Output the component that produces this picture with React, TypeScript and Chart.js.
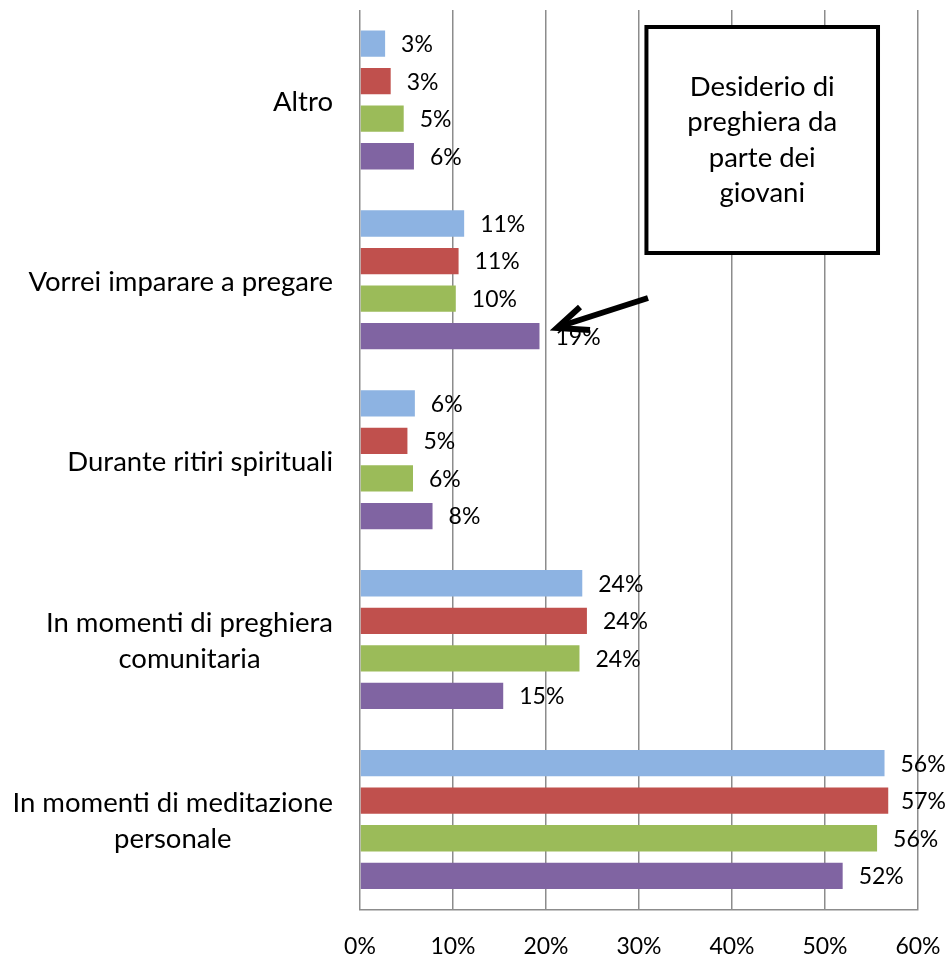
import React, { useEffect, useRef } from "react";
import { Chart, registerables } from "chart.js";

Chart.register(...registerables);

const categories: string[][] = [
  ["Altro"],
  ["Vorrei imparare a pregare"],
  ["Durante ritiri spirituali"],
  ["In momenti di preghiera", "comunitaria"],
  ["In momenti di meditazione", "personale"],
];

const seriesNames = ["Serie 1", "Serie 2", "Serie 3", "Serie 4"];
const series1 = [2.7, 11.2, 5.9, 23.9, 56.4];
const series2 = [3.3, 10.6, 5.1, 24.4, 56.8];
const series3 = [4.7, 10.3, 5.7, 23.6, 55.6];
const series4 = [5.8, 19.3, 7.8, 15.4, 51.9];
const colors = ["#8DB3E2", "#C0504D", "#9BBB59", "#8064A2"];
const xTicks = [0, 10, 20, 30, 40, 50, 60];
const boxLines = ["Desiderio di", "preghiera da", "parte dei", "giovani"];

const FONT = "Lato, 'Open Sans', sans-serif";

const labelsPlugin = {
  id: "customLabels",
  afterDatasetsDraw(chart: any) {
    const ctx = chart.ctx;
    const area = chart.chartArea;
    ctx.save();
    // data labels
    ctx.font = `23px ${FONT}`;
    ctx.fillStyle = "#000";
    ctx.textBaseline = "middle";
    ctx.textAlign = "left";
    chart.data.datasets.forEach((ds: any, di: number) => {
      const meta = chart.getDatasetMeta(di);
      meta.data.forEach((el: any, i: number) => {
        const txt = Math.round(ds.data[i]) + "%";
        const w = ctx.measureText(txt).width;
        let x = el.x + 16;
        if (x + w > area.right + 28) x = area.right + 28 - w;
        ctx.fillText(txt, x, el.y + 1);
      });
    });
    // category labels
    ctx.font = `27.5px ${FONT}`;
    ctx.textAlign = "center";
    const yScale = chart.scales.y;
    categories.forEach((lines, i) => {
      const cy = yScale.getPixelForValue(i);
      const maxW = Math.max(...lines.map((l) => ctx.measureText(l).width));
      const cx = area.left - 27 - maxW / 2;
      const lh = 36;
      lines.forEach((l, j) => {
        ctx.fillText(l, cx, cy + 2 + (j - (lines.length - 1) / 2) * lh);
      });
    });
    ctx.restore();
  },
  afterDraw(chart: any) {
    const ctx = chart.ctx;
    const xs = chart.scales.x;
    ctx.save();
    // annotation box
    const bx = xs.getPixelForValue(30.8);
    const bx2 = xs.getPixelForValue(55.7);
    const by = 27;
    const by2 = 253;
    ctx.fillStyle = "#fff";
    ctx.fillRect(bx, by, bx2 - bx, by2 - by);
    ctx.lineWidth = 4;
    ctx.strokeStyle = "#000";
    ctx.strokeRect(bx, by, bx2 - bx, by2 - by);
    ctx.fillStyle = "#000";
    ctx.font = `27.5px ${FONT}`;
    ctx.textAlign = "center";
    ctx.textBaseline = "middle";
    const cx = (bx + bx2) / 2;
    const cy = (by + by2) / 2;
    boxLines.forEach((l, j) => {
      ctx.fillText(l, cx, cy + (j - (boxLines.length - 1) / 2) * 35.5);
    });
    // arrow
    const tipX = 557;
    const tipY = 328;
    ctx.lineWidth = 6;
    ctx.lineCap = "butt";
    ctx.beginPath();
    ctx.moveTo(648, 298);
    ctx.lineTo(tipX + 4, tipY - 2);
    ctx.stroke();
    ctx.beginPath();
    ctx.moveTo(580, 307);
    ctx.lineTo(tipX, tipY);
    ctx.lineTo(590, 330);
    ctx.stroke();
    ctx.restore();
  },
};

export default function App() {
  const ref = useRef<HTMLCanvasElement>(null);
  useEffect(() => {
    if (!ref.current) return;
    const datasets = [series1, series2, series3, series4].map((d, i) => ({
      label: seriesNames[i],
      data: d,
      backgroundColor: colors[i],
      borderWidth: 0,
      categoryPercentage: 0.835,
      barPercentage: 0.7,
    }));
    const chart = new Chart(ref.current, {
      type: "bar",
      data: { labels: categories.map((c) => c.join(" ")), datasets },
      options: {
        indexAxis: "y",
        animation: false,
        responsive: false,
        maintainAspectRatio: false,
        layout: { padding: { left: 360, right: 33, top: 10, bottom: -29 } },
        plugins: { legend: { display: false }, tooltip: { enabled: false } },
        scales: {
          y: { display: false },
          x: {
            min: 0,
            max: 60,
            afterBuildTicks: (axis: any) => {
              axis.ticks = xTicks.map((v) => ({ value: v }));
            },
            afterFit: (axis: any) => {
              axis.paddingLeft = 0;
              axis.paddingRight = 0;
            },
            grid: { color: "#8c8c8c", lineWidth: 1.5, drawTicks: false },
            border: { display: true, color: "#8c8c8c", width: 1.5 },
            ticks: {
              padding: 23,
              color: "#000",
              font: { family: FONT, size: 23 },
              callback: (v: any) => v + "%",
            },
          },
        },
      },
      plugins: [labelsPlugin],
    });
    return () => chart.destroy();
  }, []);
  return (
    <div style={{ position: "fixed", left: 0, top: 0, width: 951, height: 954, background: "#fff", overflow: "hidden" }}>
      <canvas ref={ref} width={951} height={954} style={{ display: "block" }} />
    </div>
  );
}
